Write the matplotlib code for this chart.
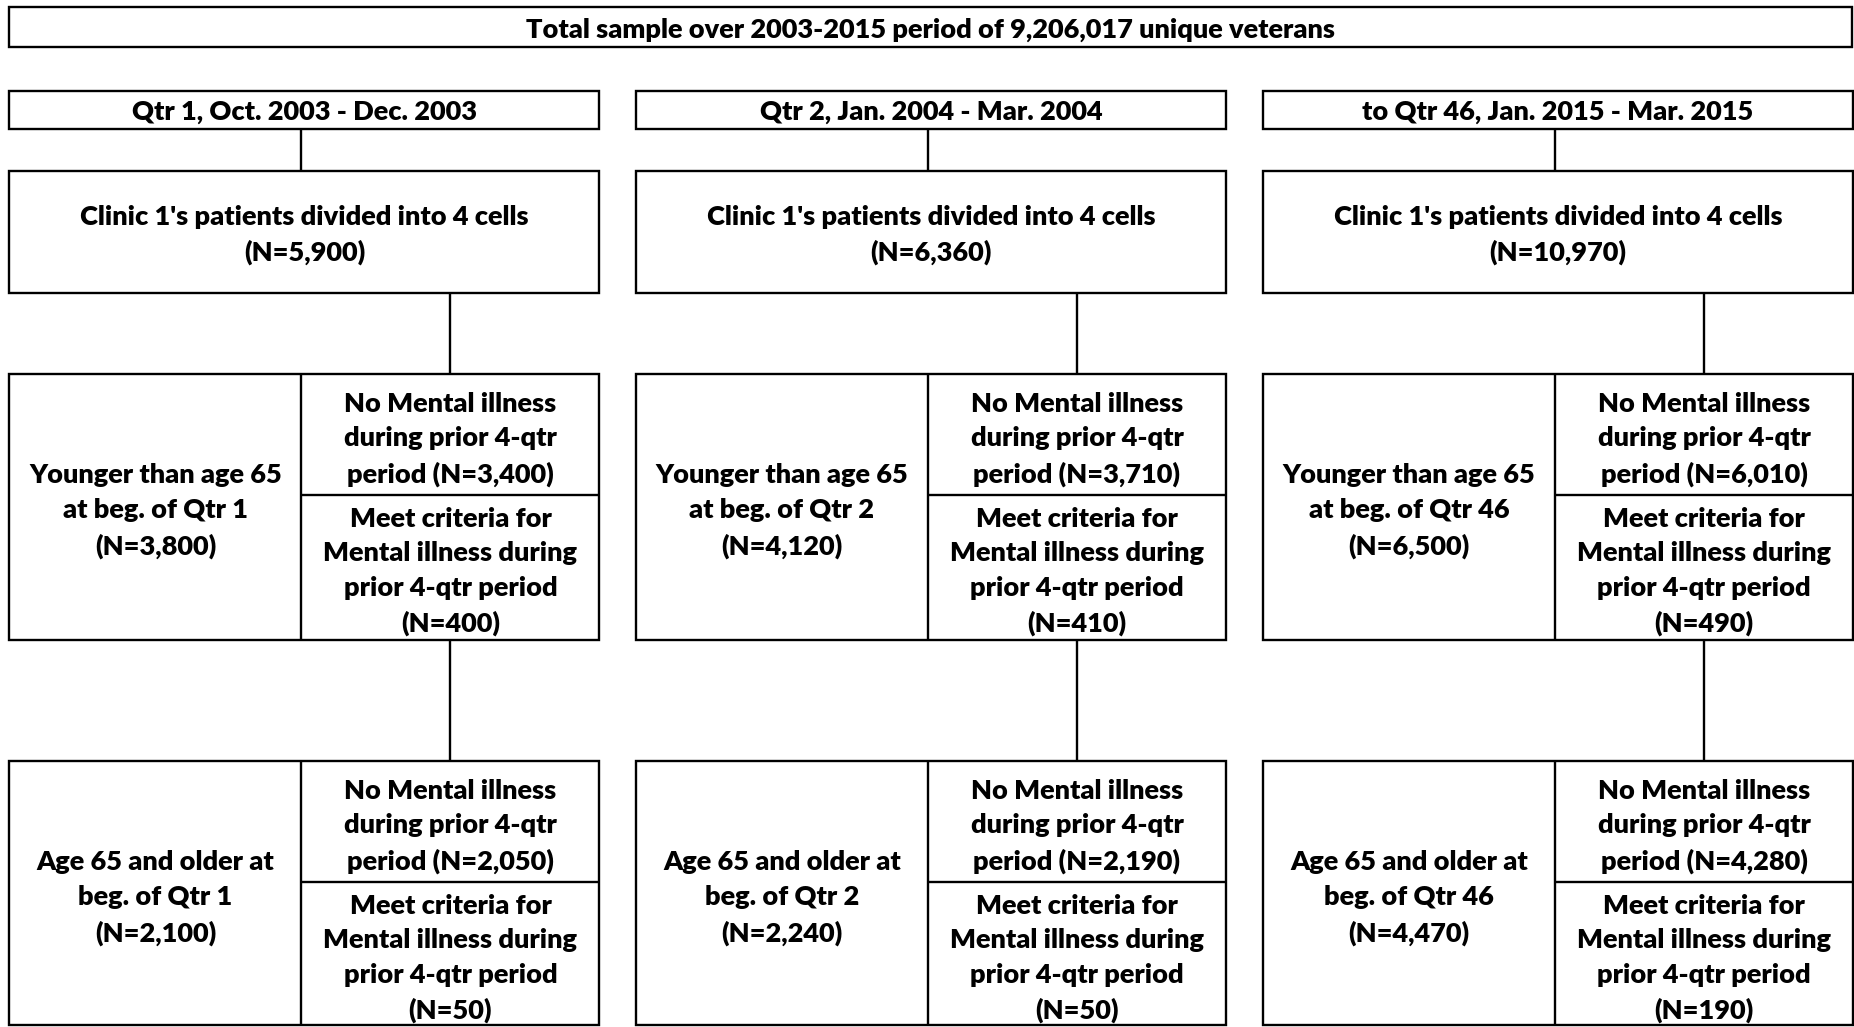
import matplotlib.pyplot as plt
from matplotlib.patches import Rectangle

plt.rcParams['font.family'] = ['Lato', 'DejaVu Sans']

total_label = "Total sample over 2003-2015 period of 9,206,017 unique veterans"
quarter_labels = ["Qtr 1, Oct. 2003 - Dec. 2003",
                  "Qtr 2, Jan. 2004 - Mar. 2004",
                  "to Qtr 46, Jan. 2015 - Mar. 2015"]
quarter_short = ["Qtr 1", "Qtr 2", "Qtr 46"]
clinic_n = ["5,900", "6,360", "10,970"]
young_n = ["3,800", "4,120", "6,500"]
young_no_mi = ["3,400", "3,710", "6,010"]
young_mi = ["400", "410", "490"]
old_n = ["2,100", "2,240", "4,470"]
old_no_mi = ["2,050", "2,190", "4,280"]
old_mi = ["50", "50", "190"]

W, H = 1854, 1027
fig = plt.figure(figsize=(W / 100, H / 100), dpi=100)
ax = fig.add_axes([0, 0, 1, 1])
ax.set_xlim(0, W)
ax.set_ylim(H, 0)
ax.axis('off')

LW = 1.7
FS = 19.5
kw = dict(ha='center', va='center', fontsize=FS, fontweight='heavy', linespacing=1.53)


def box(x0, y0, x1, y1):
    ax.add_patch(Rectangle((x0, y0), x1 - x0, y1 - y0, fill=False, lw=LW, ec='black'))


def vline(x, y0, y1):
    ax.plot([x, x], [y0, y1], color='black', lw=LW, solid_capstyle='butt')


def hline(x0, x1, y):
    ax.plot([x0, x1], [y, y], color='black', lw=LW, solid_capstyle='butt')


# top box
box(9.5, 7, 1852, 47)
ax.text((9.5 + 1852) / 2, 30, total_label, **kw)

col_left = [9.5, 636, 1263]
col_w = 590
split = 292

for i in range(3):
    x0 = col_left[i]
    x1 = x0 + col_w
    xm = x0 + split
    xr = (xm + x1) / 2

    # quarter header
    box(x0, 91, x1, 129)
    ax.text((x0 + x1) / 2, 112, quarter_labels[i], **kw)
    vline(xm, 129, 171)

    # clinic box
    box(x0, 171, x1, 293)
    ax.text((x0 + x1) / 2, 235,
            "Clinic 1's patients divided into 4 cells\n(N=%s)" % clinic_n[i], **kw)
    vline(xr, 293, 374)

    # younger block
    box(x0, 374, x1, 640)
    vline(xm, 374, 640)
    hline(xm, x1, 495)
    ax.text((x0 + xm) / 2, 511,
            "Younger than age 65\nat beg. of %s\n(N=%s)" % (quarter_short[i], young_n[i]), **kw)
    ax.text(xr, 439.5,
            "No Mental illness\nduring prior 4-qtr\nperiod (N=%s)" % young_no_mi[i], **kw)
    ax.text(xr, 571.5,
            "Meet criteria for\nMental illness during\nprior 4-qtr period\n(N=%s)" % young_mi[i], **kw)
    vline(xr, 640, 761)

    # older block
    box(x0, 761, x1, 1025)
    vline(xm, 761, 1025)
    hline(xm, x1, 882)
    ax.text((x0 + xm) / 2, 898,
            "Age 65 and older at\nbeg. of %s\n(N=%s)" % (quarter_short[i], old_n[i]), **kw)
    ax.text(xr, 826.5,
            "No Mental illness\nduring prior 4-qtr\nperiod (N=%s)" % old_no_mi[i], **kw)
    ax.text(xr, 958.5,
            "Meet criteria for\nMental illness during\nprior 4-qtr period\n(N=%s)" % old_mi[i], **kw)

fig.savefig('out.png', dpi=100)
